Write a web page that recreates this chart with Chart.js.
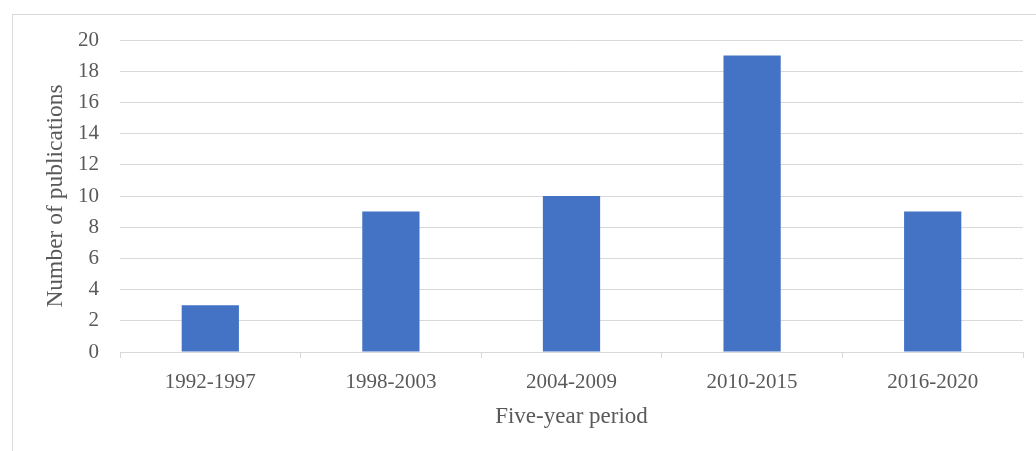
<!DOCTYPE html>
<html>
<head>
<meta charset="utf-8">
<script src="https://cdn.jsdelivr.net/npm/chart.js@4"></script>
<style>
  html, body { margin: 0; padding: 0; background: #fff; overflow: hidden; width: 1036px; height: 451px; }
  #frame { position: absolute; left: 12px; top: 14px; width: 1100px; height: 500px; border: 1px solid #d9d9d9; box-sizing: border-box; }
  #c { position: absolute; left: 0; top: 0; }
</style>
</head>
<body>
<div id="frame"></div>
<canvas id="c" width="1036" height="451"></canvas>
<script>
const categories = ["1992-1997", "1998-2003", "2004-2009", "2010-2015", "2016-2020"];
const publications = [3, 9, 10, 19, 9];
const yTicks = { min: 0, max: 20, step: 2 };
const xTitle = "Five-year period";
const yTitle = "Number of publications";

const textColor = "#595959";
const gridColor = "#d9d9d9";
const fontFamily = "'Liberation Serif', 'Times New Roman', serif";

new Chart(document.getElementById("c"), {
  type: "bar",
  data: {
    labels: categories,
    datasets: [{
      data: publications,
      backgroundColor: "#4472C4",
      borderWidth: 0,
      barPercentage: 0.317,
      categoryPercentage: 1.0
    }]
  },
  options: {
    responsive: false,
    animation: false,
    devicePixelRatio: 1,
    layout: { padding: { left: 0, right: 13, top: 40, bottom: 0 } },
    plugins: { legend: { display: false }, tooltip: { enabled: false } },
    scales: {
      x: {
        grid: { display: true, drawOnChartArea: false, drawTicks: true, tickLength: 6, color: gridColor, tickColor: gridColor, lineWidth: 1 },
        border: { display: true, color: gridColor, width: 1 },
        ticks: { color: textColor, font: { family: fontFamily, size: 21 }, padding: 12, maxRotation: 0 },
        title: { display: true, text: xTitle, color: textColor, font: { family: fontFamily, size: 23 }, padding: { top: 0, bottom: 20 } },
        afterFit: (s) => { s.height = 99; }
      },
      y: {
        min: yTicks.min, max: yTicks.max,
        grid: { color: gridColor, drawTicks: false, lineWidth: 1 },
        border: { display: false },
        ticks: { stepSize: yTicks.step, color: textColor, font: { family: fontFamily, size: 21 }, padding: 21 },
        title: { display: true, text: yTitle, color: textColor, font: { family: fontFamily, size: 23.5 }, padding: { top: 42, bottom: 0 } },
        afterFit: (s) => { s.width = 120; }
      }
    }
  }
});
</script>
</body>
</html>
